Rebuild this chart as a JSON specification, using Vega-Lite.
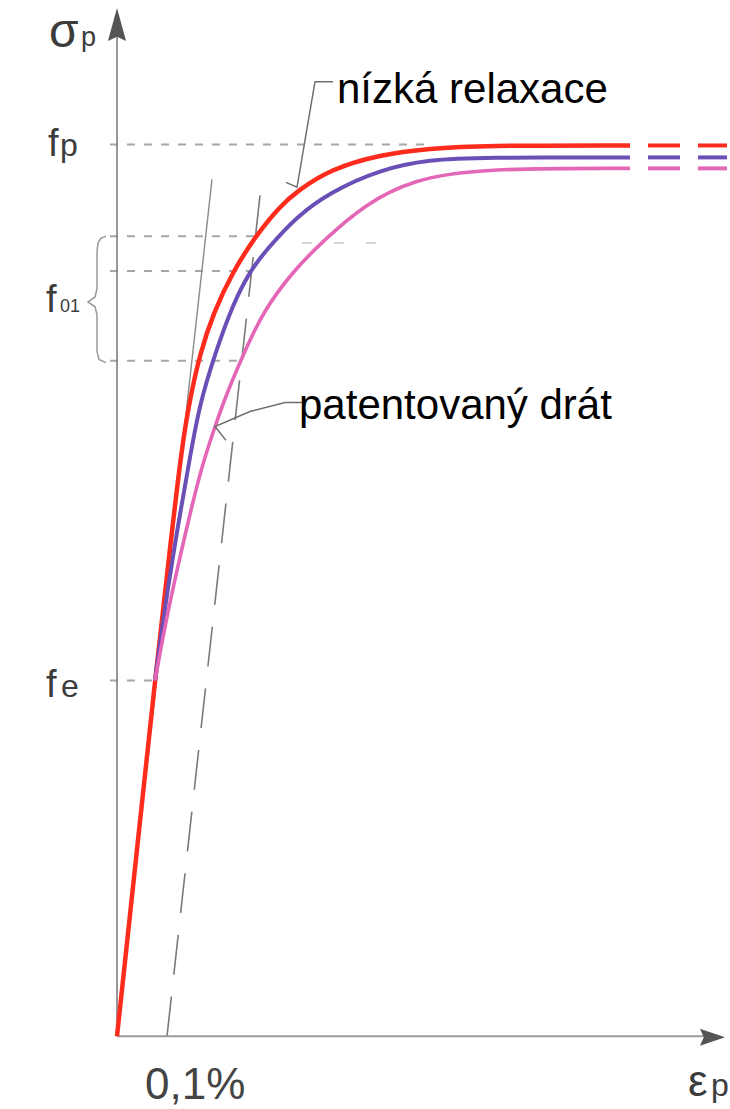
{
  "$schema": "https://vega.github.io/schema/vega-lite/v6.json",
  "width": 730,
  "height": 1109,
  "autosize": {"type": "fit", "contains": "padding"},
  "padding": 0,
  "background": "white",
  "config": {"view": {"stroke": null}},
  "datasets": {
    "guides": [
      {"g": "fp", "x": -0.014, "x2": 0.62, "y": 1.0},
      {"g": "f01a", "x": -0.014, "x2": 0.28, "y": 0.8972},
      {"g": "f01b", "x": -0.014, "x2": 0.27, "y": 0.8581},
      {"g": "f01c", "x": -0.014, "x2": 0.25, "y": 0.7575},
      {"g": "fe", "x": -0.014, "x2": 0.072, "y": 0.3989}
    ],
    "faint": [
      {"g": "f01a2", "x": 0.37, "x2": 0.53, "y": 0.8894}
    ],
    "bracket": [
      {"o": 0, "x": -0.022, "y": 0.8972},
      {"o": 1, "x": -0.032, "y": 0.8950},
      {"o": 2, "x": -0.038, "y": 0.8894},
      {"o": 3, "x": -0.040, "y": 0.8800},
      {"o": 4, "x": -0.040, "y": 0.8380},
      {"o": 5, "x": -0.044, "y": 0.8290},
      {"o": 6, "x": -0.058, "y": 0.8235},
      {"o": 7, "x": -0.044, "y": 0.8180},
      {"o": 8, "x": -0.040, "y": 0.8090},
      {"o": 9, "x": -0.040, "y": 0.7680},
      {"o": 10, "x": -0.036, "y": 0.7590},
      {"o": 11, "x": -0.022, "y": 0.7553}
    ],
    "elastic": [
      {"o": 0, "x": 0.0, "y": 0.0},
      {"o": 1, "x": 0.19, "y": 0.9609}
    ],
    "offset": [
      {"o": 0, "x": 0.1, "y": 0.0},
      {"o": 1, "x": 0.29, "y": 0.9631}
    ],
    "vaxis": [{"x": 0, "y": 0, "y2": 1.1285}],
    "haxis": [{"x": 0, "x2": 1.176, "y": 0}],
    "varrow": [{"x": 0, "y": 1.1346}],
    "harrow": [{"x": 1.191, "y": -0.0011}],
    "red": [
      {"o": 0, "x": 0.0, "y": 0.0},
      {"o": 1, "x": 0.038, "y": 0.1989},
      {"o": 2, "x": 0.076, "y": 0.3989},
      {"o": 3, "x": 0.106, "y": 0.5475},
      {"o": 4, "x": 0.13, "y": 0.6626},
      {"o": 5, "x": 0.146, "y": 0.7151},
      {"o": 6, "x": 0.166, "y": 0.7654},
      {"o": 7, "x": 0.192, "y": 0.8101},
      {"o": 8, "x": 0.232, "y": 0.8581},
      {"o": 9, "x": 0.28, "y": 0.8994},
      {"o": 10, "x": 0.326, "y": 0.9307},
      {"o": 11, "x": 0.36, "y": 0.9475},
      {"o": 12, "x": 0.426, "y": 0.9721},
      {"o": 13, "x": 0.526, "y": 0.9888},
      {"o": 14, "x": 0.626, "y": 0.9955},
      {"o": 15, "x": 0.726, "y": 0.9989},
      {"o": 16, "x": 1.026, "y": 0.9989}
    ],
    "blue": [
      {"o": 0, "x": 0.076, "y": 0.3989},
      {"o": 1, "x": 0.09, "y": 0.4581},
      {"o": 2, "x": 0.114, "y": 0.5475},
      {"o": 3, "x": 0.15, "y": 0.6626},
      {"o": 4, "x": 0.166, "y": 0.7095},
      {"o": 5, "x": 0.196, "y": 0.7654},
      {"o": 6, "x": 0.232, "y": 0.8212},
      {"o": 7, "x": 0.266, "y": 0.8581},
      {"o": 8, "x": 0.3, "y": 0.8827},
      {"o": 9, "x": 0.36, "y": 0.9196},
      {"o": 10, "x": 0.426, "y": 0.9464},
      {"o": 11, "x": 0.526, "y": 0.9721},
      {"o": 12, "x": 0.626, "y": 0.9832},
      {"o": 13, "x": 0.726, "y": 0.9855},
      {"o": 14, "x": 1.026, "y": 0.9855}
    ],
    "magenta": [
      {"o": 0, "x": 0.076, "y": 0.3989},
      {"o": 1, "x": 0.1, "y": 0.4726},
      {"o": 2, "x": 0.13, "y": 0.5475},
      {"o": 3, "x": 0.166, "y": 0.6335},
      {"o": 4, "x": 0.196, "y": 0.6838},
      {"o": 5, "x": 0.22, "y": 0.7218},
      {"o": 6, "x": 0.256, "y": 0.7687},
      {"o": 7, "x": 0.292, "y": 0.8123},
      {"o": 8, "x": 0.352, "y": 0.8581},
      {"o": 9, "x": 0.416, "y": 0.8939},
      {"o": 10, "x": 0.496, "y": 0.9330},
      {"o": 11, "x": 0.592, "y": 0.9609},
      {"o": 12, "x": 0.726, "y": 0.9732},
      {"o": 13, "x": 1.026, "y": 0.9732}
    ],
    "tails": [
      {"s": "red", "x": 1.062, "x2": 1.126, "y": 0.9989},
      {"s": "red", "x": 1.162, "x2": 1.22, "y": 0.9989},
      {"s": "blue", "x": 1.062, "x2": 1.126, "y": 0.9855},
      {"s": "blue", "x": 1.162, "x2": 1.22, "y": 0.9855},
      {"s": "magenta", "x": 1.062, "x2": 1.126, "y": 0.9732},
      {"s": "magenta", "x": 1.162, "x2": 1.22, "y": 0.9732}
    ],
    "leaders": [
      {"g": "a", "o": 0, "x": 0.432, "y": 1.0704},
      {"g": "a", "o": 1, "x": 0.396, "y": 1.0704},
      {"g": "a", "o": 2, "x": 0.36, "y": 0.952},
      {"g": "a", "o": 3, "x": 0.338, "y": 0.9575},
      {"g": "b", "o": 0, "x": 0.37, "y": 0.7106},
      {"g": "b", "o": 1, "x": 0.336, "y": 0.7106},
      {"g": "b", "o": 2, "x": 0.266, "y": 0.7006},
      {"g": "b", "o": 3, "x": 0.196, "y": 0.6838},
      {"g": "b", "o": 4, "x": 0.218, "y": 0.6682}
    ],
    "labels": [
      {"k": "sym", "t": "σ", "x": -0.136, "y": 1.1095},
      {"k": "subs", "t": "p", "x": -0.072, "y": 1.1106},
      {"k": "f", "t": "f", "x": -0.138, "y": 0.9866},
      {"k": "sub", "t": "p", "x": -0.114, "y": 0.9866},
      {"k": "f", "t": "f", "x": -0.142, "y": 0.8123},
      {"k": "tiny", "t": "01", "x": -0.114, "y": 0.8123},
      {"k": "f", "t": "f", "x": -0.142, "y": 0.3799},
      {"k": "sub", "t": "e", "x": -0.112, "y": 0.3799},
      {"k": "pct", "t": "0,1%", "x": 0.056, "y": -0.0704},
      {"k": "sym2", "t": "ε", "x": 1.142, "y": -0.067},
      {"k": "sub", "t": "p", "x": 1.188, "y": -0.067},
      {"k": "note", "t": "nízká relaxace", "x": 0.44, "y": 1.0469},
      {"k": "note", "t": "patentovaný drát", "x": 0.364, "y": 0.6927}
    ]
  },
  "encoding": {
    "x": {"field": "x", "type": "quantitative", "axis": null, "scale": {"domain": [-0.234, 1.226], "nice": false, "zero": false}},
    "y": {"field": "y", "type": "quantitative", "axis": null, "scale": {"domain": [-0.07709, 1.16201], "nice": false, "zero": false}}
  },
  "layer": [
    {
      "data": {"name": "guides"},
      "mark": {"type": "rule", "color": "#a6a6a6", "strokeWidth": 2, "strokeDash": [8, 9]},
      "encoding": {"x2": {"field": "x2"}}
    },
    {
      "data": {"name": "faint"},
      "mark": {"type": "rule", "color": "#c8c8c8", "strokeWidth": 1.5, "strokeDash": [10, 22]},
      "encoding": {"x2": {"field": "x2"}}
    },
    {
      "data": {"name": "bracket"},
      "mark": {"type": "line", "color": "#999999", "strokeWidth": 1.5, "interpolate": "linear"},
      "encoding": {"order": {"field": "o"}}
    },
    {
      "data": {"name": "elastic"},
      "mark": {"type": "line", "color": "#8a8a8a", "strokeWidth": 1.4},
      "encoding": {"order": {"field": "o"}}
    },
    {
      "data": {"name": "offset"},
      "mark": {"type": "line", "color": "#7a7a7a", "strokeWidth": 1.6, "strokeDash": [40, 22]},
      "encoding": {"order": {"field": "o"}}
    },
    {
      "data": {"name": "vaxis"},
      "mark": {"type": "rule", "color": "#7d7d7d", "strokeWidth": 1.6},
      "encoding": {"y2": {"field": "y2"}}
    },
    {
      "data": {"name": "haxis"},
      "mark": {"type": "rule", "color": "#9a9a9a", "strokeWidth": 2.2},
      "encoding": {"x2": {"field": "x2"}}
    },
    {
      "data": {"name": "varrow"},
      "mark": {"type": "point", "filled": true, "opacity": 1, "color": "#555555", "shape": "M0,-1L0.55,1L0,0.75L-0.55,1Z", "size": 1089}
    },
    {
      "data": {"name": "harrow"},
      "mark": {"type": "point", "filled": true, "opacity": 1, "color": "#555555", "shape": "M1,0L-1,0.68L-0.7,0L-1,-0.68Z", "size": 625}
    },
    {
      "data": {"name": "red"},
      "mark": {"type": "line", "color": "#ff2b1c", "strokeWidth": 4.5, "interpolate": "basis"},
      "encoding": {"order": {"field": "o"}}
    },
    {
      "data": {"name": "blue"},
      "mark": {"type": "line", "color": "#6a50b6", "strokeWidth": 4, "interpolate": "basis"},
      "encoding": {"order": {"field": "o"}}
    },
    {
      "data": {"name": "magenta"},
      "mark": {"type": "line", "color": "#e466b6", "strokeWidth": 3.6, "interpolate": "basis"},
      "encoding": {"order": {"field": "o"}}
    },
    {
      "data": {"name": "tails"},
      "mark": {"type": "rule", "strokeWidth": 4},
      "encoding": {
        "x2": {"field": "x2"},
        "color": {"field": "s", "type": "nominal", "legend": null, "scale": {"domain": ["red", "blue", "magenta"], "range": ["#ff2b1c", "#6a50b6", "#e466b6"]}}
      }
    },
    {
      "data": {"name": "leaders"},
      "mark": {"type": "line", "color": "#6e6e6e", "strokeWidth": 1.5},
      "encoding": {"detail": {"field": "g"}, "order": {"field": "o"}}
    },
    {
      "data": {"name": "labels"},
      "transform": [{"filter": "datum.k === 'sym'"}],
      "mark": {"type": "text", "align": "left", "baseline": "alphabetic", "font": "Liberation Sans", "fontSize": 48, "color": "#3c3c3c"},
      "encoding": {"text": {"field": "t"}}
    },
    {
      "data": {"name": "labels"},
      "transform": [{"filter": "datum.k === 'sym2'"}],
      "mark": {"type": "text", "align": "left", "baseline": "alphabetic", "font": "Liberation Sans", "fontSize": 44, "color": "#3c3c3c"},
      "encoding": {"text": {"field": "t"}}
    },
    {
      "data": {"name": "labels"},
      "transform": [{"filter": "datum.k === 'subs'"}],
      "mark": {"type": "text", "align": "left", "baseline": "alphabetic", "font": "Liberation Sans", "fontSize": 27, "color": "#3c3c3c"},
      "encoding": {"text": {"field": "t"}}
    },
    {
      "data": {"name": "labels"},
      "transform": [{"filter": "datum.k === 'f'"}],
      "mark": {"type": "text", "align": "left", "baseline": "alphabetic", "font": "Liberation Sans", "fontSize": 38, "color": "#3c3c3c"},
      "encoding": {"text": {"field": "t"}}
    },
    {
      "data": {"name": "labels"},
      "transform": [{"filter": "datum.k === 'sub'"}],
      "mark": {"type": "text", "align": "left", "baseline": "alphabetic", "font": "Liberation Sans", "fontSize": 32, "color": "#3c3c3c"},
      "encoding": {"text": {"field": "t"}}
    },
    {
      "data": {"name": "labels"},
      "transform": [{"filter": "datum.k === 'tiny'"}],
      "mark": {"type": "text", "align": "left", "baseline": "alphabetic", "font": "Liberation Sans", "fontSize": 18, "color": "#3c3c3c"},
      "encoding": {"text": {"field": "t"}}
    },
    {
      "data": {"name": "labels"},
      "transform": [{"filter": "datum.k === 'pct'"}],
      "mark": {"type": "text", "align": "left", "baseline": "alphabetic", "font": "Liberation Sans", "fontSize": 44, "color": "#444444"},
      "encoding": {"text": {"field": "t"}}
    },
    {
      "data": {"name": "labels"},
      "transform": [{"filter": "datum.k === 'note'"}],
      "mark": {"type": "text", "align": "left", "baseline": "alphabetic", "font": "Liberation Sans", "fontSize": 42, "color": "#000000"},
      "encoding": {"text": {"field": "t"}}
    }
  ]
}
